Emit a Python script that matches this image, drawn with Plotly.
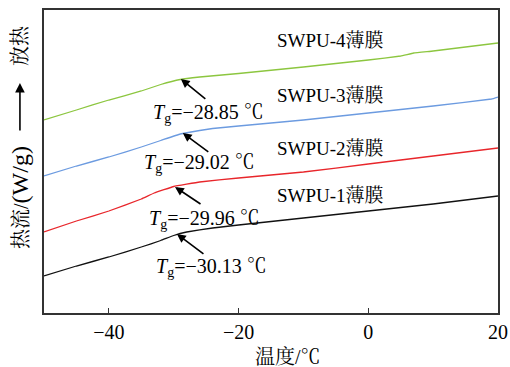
import plotly.graph_objects as go

# Temperature (°C) and heat flow (arbitrary units, exo up)
t_s4 = [-50, -45, -40, -35, -32, -29, -26, -20, -10, 0, 5, 7, 10, 20]
hf_s4 = [193, 203, 213, 222, 228.5, 233.5, 236, 239.5, 246, 253, 257, 260, 262, 270]

t_s3 = [-50, -45, -40, -35, -32, -29, -26, -24, -20, -10, 0, 10, 19, 20]
hf_s3 = [137, 147, 156, 166, 172.5, 179, 182.5, 184.5, 187, 193, 200, 207, 214, 216]

t_s2 = [-50, -45, -40, -35, -33, -30, -26, -20, -10, 0, 10, 20]
hf_s2 = [81, 92, 102, 114, 120, 126.5, 131, 135, 141, 149, 157, 165]

t_s1 = [-50, -45, -40, -35, -32, -30, -28, -24, -20, -10, 0, 10, 20]
hf_s1 = [37, 47, 56, 66, 72.5, 77.5, 81, 85, 88, 95, 102, 109, 117]

series_names = ["SWPU-1薄膜", "SWPU-2薄膜", "SWPU-3薄膜", "SWPU-4薄膜"]
tg_values = ["−30.13", "−29.96", "−29.02", "−28.85"]
tg_points_x = [-29.5, -29.8, -28.6, -28.9]
tg_points_y = [79, 126, 180, 234]
colors = ["#111111", "#e8262b", "#6c9be0", "#8cc63f"]

FONT = "Liberation Serif, Times New Roman, Noto Serif CJK SC, Noto Sans CJK SC, serif"

fig = go.Figure()
for tx, hy, c in zip([t_s1, t_s2, t_s3, t_s4], [hf_s1, hf_s2, hf_s3, hf_s4], colors):
    fig.add_trace(go.Scatter(x=tx, y=hy, mode="lines",
                             line=dict(color=c, width=1.3, shape="spline", smoothing=0.2),
                             showlegend=False, hoverinfo="skip"))

# series labels
label_y = [118, 165, 218, 273]
for name, ly in zip(series_names, label_y):
    fig.add_annotation(x=-14.4, y=ly, text=name, showarrow=False, xanchor="left",
                       yanchor="middle", font=dict(family=FONT, size=19, color="black"))

# Tg arrows and labels
arrow_off = [(28, 21), (27, 18), (27, 20), (26, 21)]
text_pos = [(-24.1, 46), (-25.2, 94), (-25.95, 150), (-24.6, 200)]
for i in range(4):
    fig.add_annotation(x=tg_points_x[i], y=tg_points_y[i], ax=arrow_off[i][0], ay=arrow_off[i][1],
                       text="", showarrow=True, arrowhead=2, arrowsize=1.1, arrowwidth=1.6,
                       arrowcolor="black")
    fig.add_annotation(x=text_pos[i][0], y=text_pos[i][1],
                       text="<i>T</i><sub>g</sub>=" + tg_values[i] + " ℃",
                       showarrow=False, xanchor="center", yanchor="middle",
                       font=dict(family=FONT, size=20, color="black"))

# y-axis title pieces (rotated)
fig.add_annotation(xref="paper", yref="paper", x=-0.053, y=(313 - 197) / 303,
                   text="热流/<span style='font-size:24px'>(W/g)</span>",
                   textangle=-90, showarrow=False, xanchor="center", yanchor="middle",
                   font=dict(family=FONT, size=20, color="black"))
fig.add_annotation(xref="paper", yref="paper", x=-0.053, y=0.759, ax=0, ay=49, text="",
                   showarrow=True, arrowhead=2, arrowsize=1.2, arrowwidth=1.6, arrowcolor="black")
fig.add_annotation(xref="paper", yref="paper", x=-0.053, y=(313 - 45) / 303, text="放热",
                   textangle=-90, showarrow=False, xanchor="center", yanchor="middle",
                   font=dict(family=FONT, size=20, color="black"))
# x-axis title
fig.add_annotation(xref="paper", yref="paper", x=0.538, y=-0.145, text="温度/℃",
                   showarrow=False, yanchor="middle", font=dict(family=FONT, size=20, color="black"))

fig.update_layout(
    width=510, height=367,
    margin=dict(l=44, r=12, t=10, b=54, autoexpand=False),
    paper_bgcolor="white", plot_bgcolor="white",
    font=dict(family=FONT, size=20, color="black"),
)
fig.update_xaxes(range=[-50, 20], tickvals=[-40, -20, 0, 20], ticks="inside", ticklen=5,
                 tickwidth=1.2, tickcolor="#333", showline=True, linecolor="#333", linewidth=1.5,
                 mirror=True, showgrid=False, zeroline=False, automargin=False,
                 tickfont=dict(family=FONT, size=20, color="black"))
fig.update_yaxes(range=[0, 303], showticklabels=False, ticks="", showline=True, linecolor="#333",
                 linewidth=1.5, mirror=True, showgrid=False, zeroline=False, automargin=False)

fig.write_html("out.html")
